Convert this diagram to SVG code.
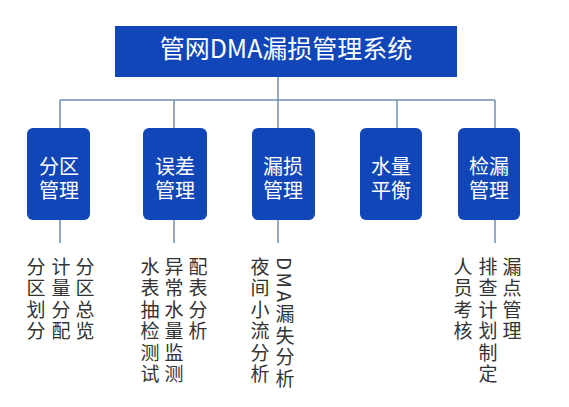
<svg xmlns="http://www.w3.org/2000/svg" width="569" height="407" viewBox="0 0 569 407">
<style>
.bg{fill:#ffffff}
.title{fill:#1146b9}
.box{fill:#1146b9}
.conn{stroke:#6f8fae;stroke-width:1.5;fill:none}
.tt{font-family:"Noto Sans CJK SC","Noto Sans",sans-serif;font-size:25px;fill:#ffffff;text-anchor:middle}
.bt{font-family:"Noto Sans CJK SC","Noto Sans",sans-serif;font-size:20px;fill:#ffffff;text-anchor:middle}
.ct{font-family:"Noto Sans CJK SC","Noto Sans",sans-serif;font-size:19px;fill:#333333;writing-mode:vertical-rl;letter-spacing:2.5px}
</style>
<rect class="bg" x="0" y="0" width="569" height="407"/>
<g id="connectors">
<path class="conn" d="M278 77 V100 M60 100 H495 M60 100 V128 M174 100 V128 M278 100 V128 M397 100 V128 M495 100 V128"/>
<path class="conn" d="M60 220 V243 M174 220 V243 M278 220 V243 M495 220 V243"/>
</g>
<g id="root">
<rect class="title" x="115" y="26" width="342" height="51"/>
<text class="tt" x="286" y="58">管网DMA漏损管理系统</text>
</g>
<g id="n1">
<rect class="box" x="27" y="128" width="63" height="92" rx="6"/>
<text class="bt" x="59" y="174">分区<tspan x="59" dy="24">管理</tspan></text>
</g>
<g id="n2">
<rect class="box" x="143" y="128" width="64" height="92" rx="6"/>
<text class="bt" x="175" y="174">误差<tspan x="175" dy="24">管理</tspan></text>
</g>
<g id="n3">
<rect class="box" x="252" y="128" width="63" height="92" rx="6"/>
<text class="bt" x="283" y="174">漏损<tspan x="283" dy="24">管理</tspan></text>
</g>
<g id="n4">
<rect class="box" x="360" y="128" width="62" height="92" rx="6"/>
<text class="bt" x="391" y="174">水量<tspan x="391" dy="24">平衡</tspan></text>
</g>
<g id="n5">
<rect class="box" x="458" y="128" width="62" height="92" rx="6"/>
<text class="bt" x="489" y="174">检漏<tspan x="489" dy="24">管理</tspan></text>
</g>
<g id="c1">
<text class="ct" x="36" y="257">分区划分</text>
<text class="ct" x="61" y="257">计量分配</text>
<text class="ct" x="85" y="257">分区总览</text>
</g>
<g id="c2">
<text class="ct" x="150" y="257">水表抽检测试</text>
<text class="ct" x="174" y="257">异常水量监测</text>
<text class="ct" x="198" y="257">配表分析</text>
</g>
<g id="c3">
<text class="ct" x="260" y="257">夜间小流分析</text>
<text class="ct" x="285" y="257">DMA漏失分析</text>
</g>
<g id="c5">
<text class="ct" x="463" y="257">人员考核</text>
<text class="ct" x="488" y="257">排查计划制定</text>
<text class="ct" x="512" y="257">漏点管理</text>
</g>
</svg>
